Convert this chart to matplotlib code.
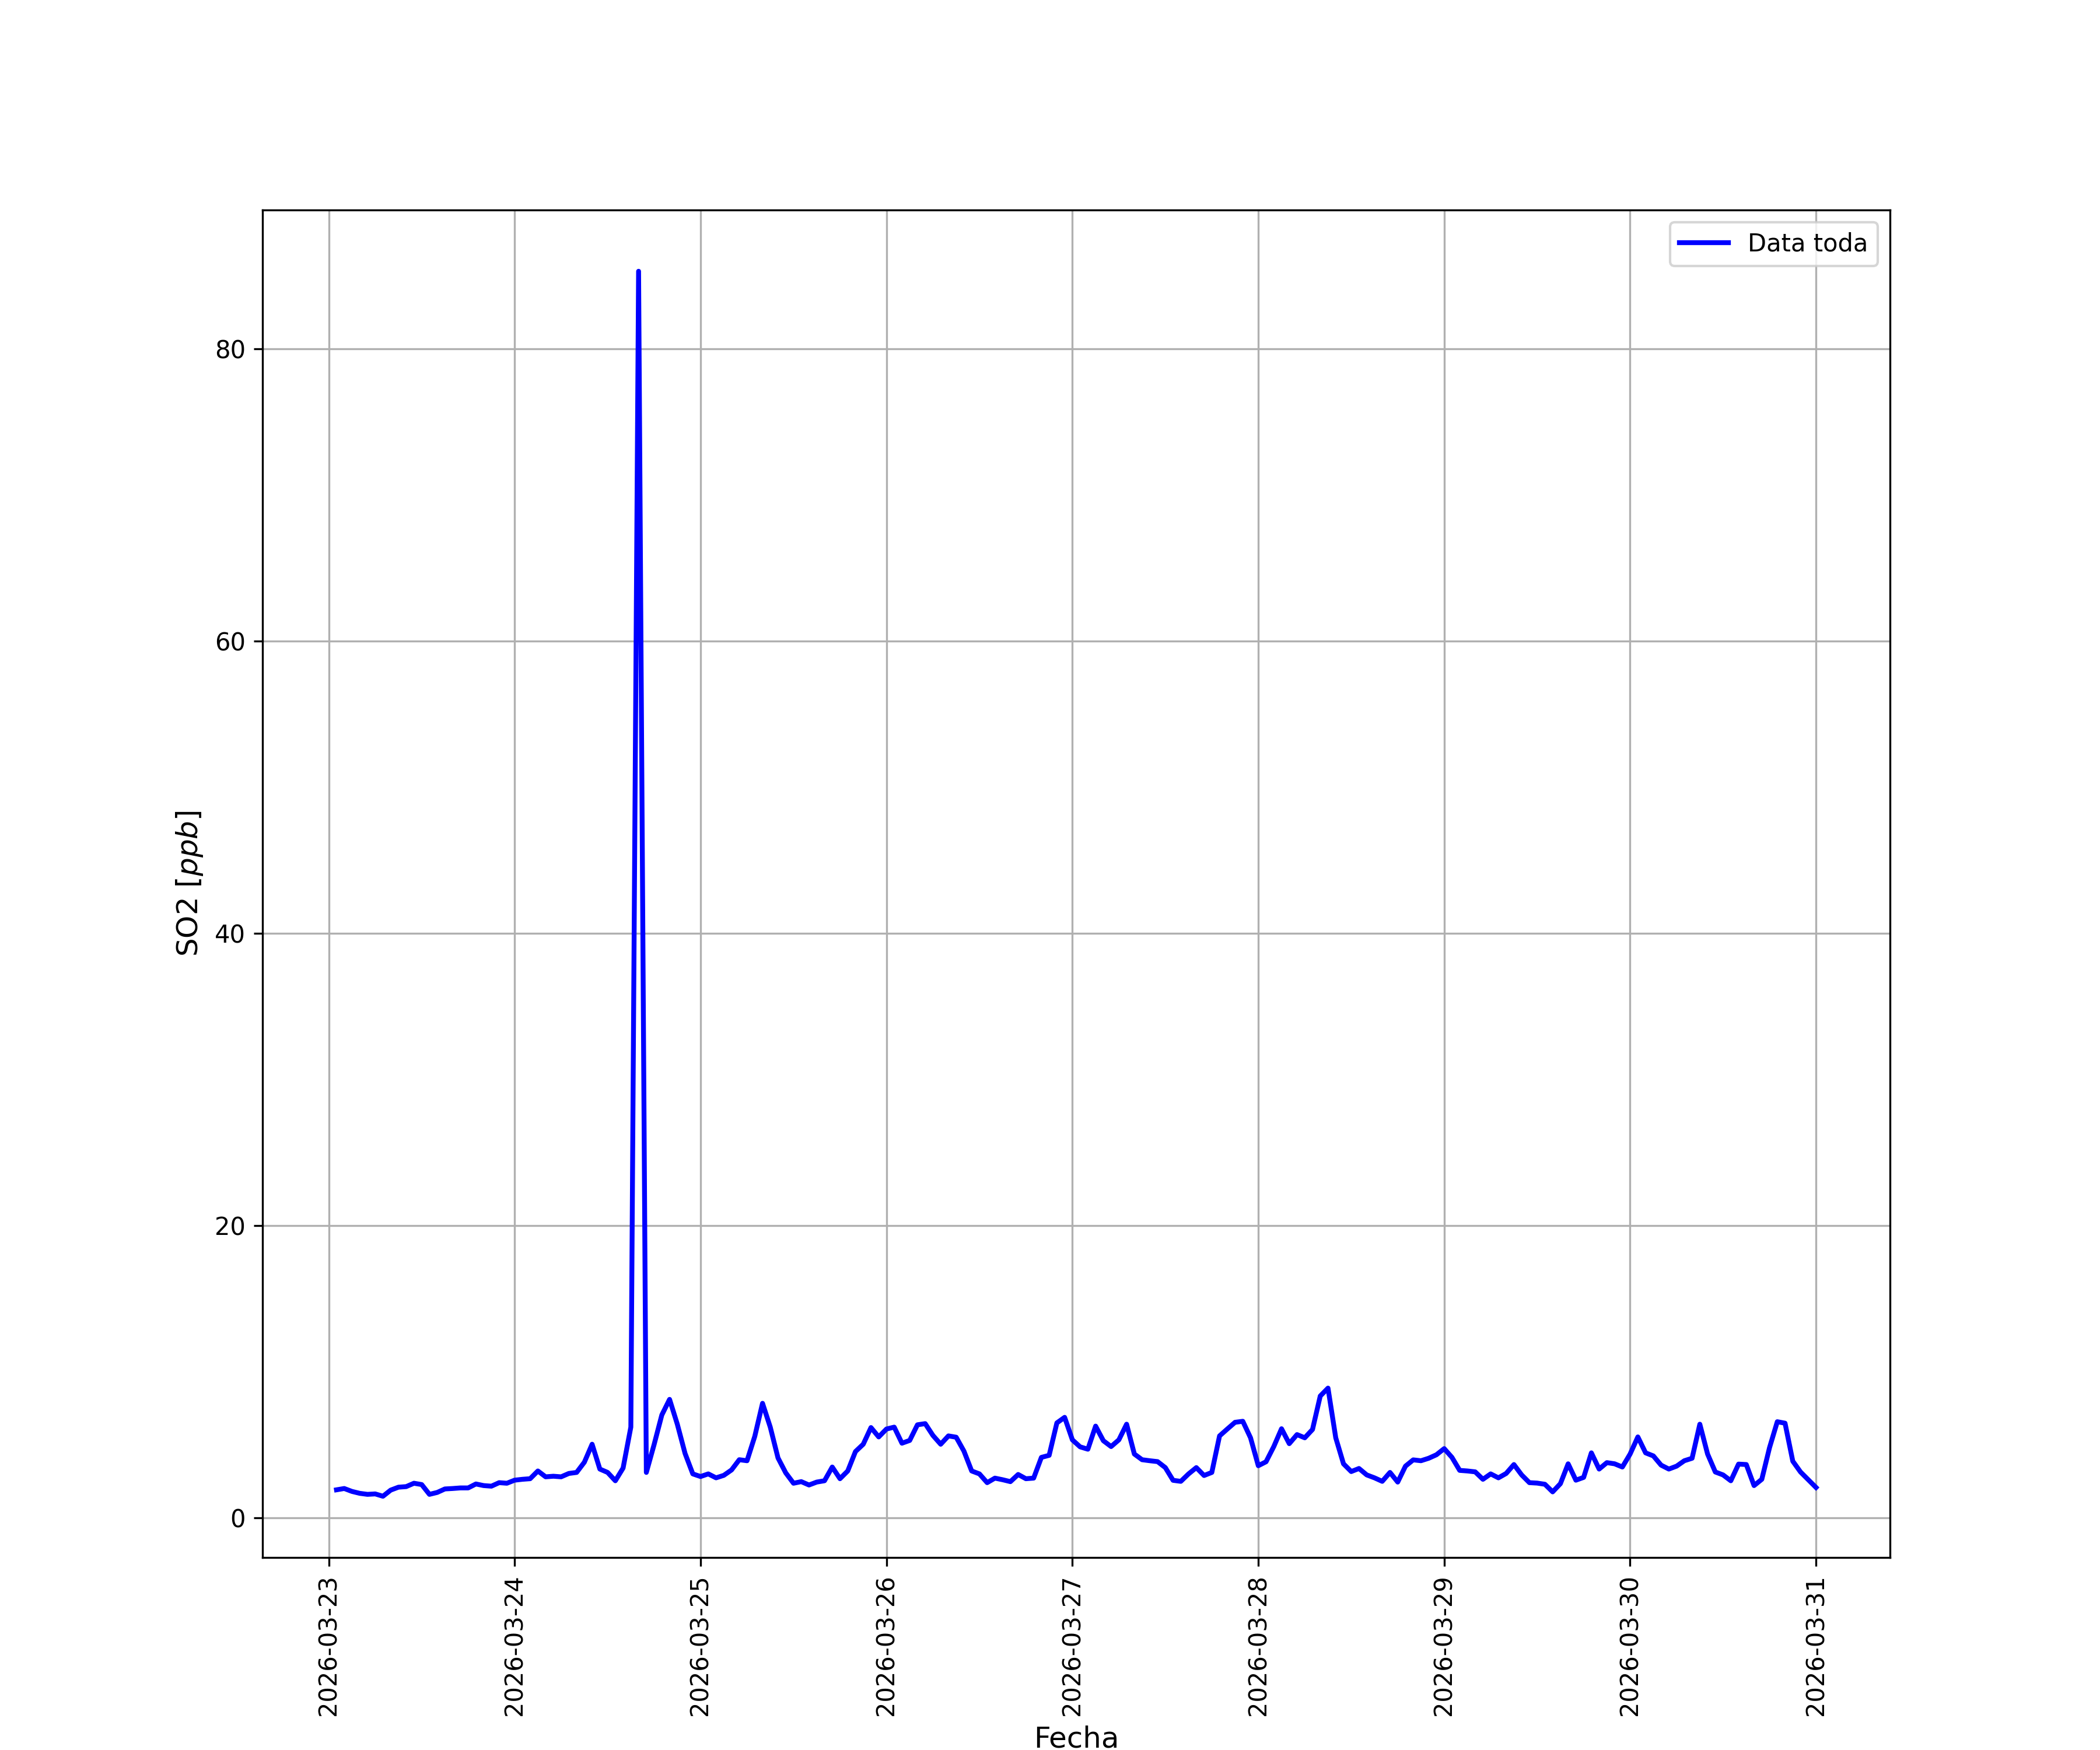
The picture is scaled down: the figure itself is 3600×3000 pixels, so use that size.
import numpy as np
import pandas as pd
import matplotlib
matplotlib.use("Agg")
import matplotlib.pyplot as plt
import matplotlib.dates as mdates

# hourly SO2, 2026-03-23 01:00 -> 2026-03-31 00:00
start = "2026-03-23 01:00"
so2 = [
    # 03-23
    1.91, 2.00, 1.80, 1.67, 1.60, 1.63, 1.47, 1.89, 2.09, 2.13, 2.36, 2.27,
    1.60, 1.73, 1.97, 2.00, 2.04, 2.04, 2.31, 2.20, 2.16, 2.40, 2.36, 2.57,
    # 03-24
    2.63, 2.67, 3.20, 2.80, 2.84, 2.80, 3.03, 3.10, 3.80, 5.03, 3.33, 3.10,
    2.53, 3.40, 6.20, 85.3, 3.10, 5.00, 7.03, 8.10, 6.40, 4.40, 3.00, 2.82,
    # 03-25
    3.00, 2.73, 2.90, 3.27, 3.97, 3.90, 5.57, 7.83, 6.20, 4.09, 3.07, 2.36,
    2.47, 2.24, 2.44, 2.53, 3.47, 2.67, 3.20, 4.53, 5.03, 6.17, 5.53, 6.07,
    # 03-26
    6.20, 5.10, 5.29, 6.36, 6.44, 5.63, 5.03, 5.60, 5.51, 4.56, 3.20, 3.00,
    2.40, 2.71, 2.60, 2.47, 2.96, 2.67, 2.71, 4.13, 4.27, 6.49, 6.87, 5.33,
    # 03-27
    4.85, 4.69, 6.27, 5.27, 4.87, 5.33, 6.40, 4.36, 3.97, 3.90, 3.84, 3.43,
    2.56, 2.49, 3.00, 3.43, 2.89, 3.10, 5.60, 6.07, 6.53, 6.60, 5.47, 3.56,
    # 03-28
    3.83, 4.87, 6.09, 5.07, 5.69, 5.47, 6.04, 8.33, 8.87, 5.47, 3.69, 3.16,
    3.37, 2.93, 2.73, 2.49, 3.10, 2.44, 3.53, 3.96, 3.90, 4.07, 4.31, 4.73,
    # 03-29
    4.13, 3.24, 3.20, 3.14, 2.63, 3.00, 2.73, 3.03, 3.64, 2.93, 2.40, 2.37,
    2.29, 1.77, 2.33, 3.69, 2.57, 2.76, 4.44, 3.33, 3.77, 3.69, 3.47, 4.36,
    # 03-30
    5.53, 4.44, 4.23, 3.60, 3.33, 3.53, 3.90, 4.07, 6.40, 4.36, 3.13, 2.93,
    2.53, 3.67, 3.64, 2.20, 2.63, 4.80, 6.57, 6.47, 3.87, 3.13, 2.60, 2.07,
]
fechas = pd.date_range(start, periods=len(so2), freq="h")

fig, ax = plt.subplots(figsize=(12, 10))
ax.plot(fechas, so2, color="blue", linewidth=2, label="Data toda")

ax.xaxis.set_major_locator(mdates.DayLocator())
ax.xaxis.set_major_formatter(mdates.DateFormatter("%Y-%m-%d"))
plt.setp(ax.get_xticklabels(), rotation=90)

ax.set_xlabel("Fecha", fontsize=12)
ax.set_ylabel(r"SO2 $[ppb]$", fontsize=12)
ax.grid(True)
ax.legend(loc="upper right")

plt.savefig("out.png", dpi=300)
